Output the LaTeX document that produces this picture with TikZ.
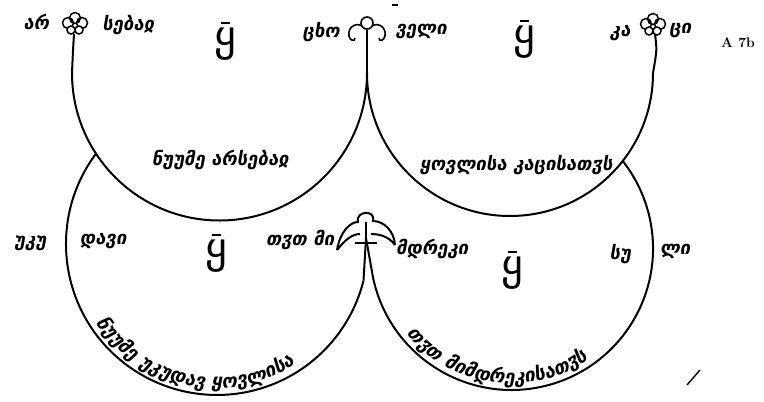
\documentclass[tikz,border=0pt]{standalone}
\usepackage{fontspec}
\usepackage{tikz}
\usetikzlibrary{decorations.text}
\newfontfamily\geo[FakeSlant=0.18]{DejaVu Sans Bold}
\newfontfamily\geoup{DejaVu Sans}
\newcommand{\qletter}[1]{
node[bigq] (#1) {ყ}
}

\begin{document}
\begin{tikzpicture}[x=1pt,y=-1pt,
  rim/.style={line width=2pt},
  word/.style={font=\geo\fontsize{18.5}{18.5}\selectfont, inner sep=0},
  bigq/.style={font=\geoup\fontsize{42}{42}\selectfont, inner sep=0},
  bloom/.pic={
    \draw[line width=1.5pt, fill=white] (-7,-1) circle (5.5) (7,-1) circle (5.5) (0,-6) circle (5.5);
    \draw[line width=1.5pt, fill=white] (-4,6) circle (4) (4,6) circle (4);
  },
  lily/.pic={
    \draw[line width=1.6pt] (-2,-1) .. controls (-8,-10) and (-20,-4) .. (-18,6) .. controls (-17,11) and (-12,12) .. (-12,8);
    \draw[line width=1.6pt] (2,-1) .. controls (8,-10) and (20,-4) .. (18,6) .. controls (17,11) and (12,12) .. (12,8);
    \draw[line width=1.6pt, fill=white] (0,-7) circle (6);
  }]
\useasboundingbox (0,0) rectangle (764,402);

\coordinate (ulw) at (72,73);
\coordinate (top) at (367,73);
\coordinate (ure) at (653,73);
\coordinate (llw) at (96.4,153.1);
\coordinate (lle) at (363.5,280.5);
\coordinate (lrw) at (373.1,277.9);
\coordinate (lre) at (623,161.4);
\coordinate (hip) at (366,238);

\draw[rim] (ulw) arc[start angle=180, end angle=0, radius=147.5];
\draw[rim] (top) arc[start angle=180, end angle=0, radius=143];
\draw[rim] (llw) arc[start angle=217, end angle=14, radius=151];
\draw[rim] (lrw) arc[start angle=168, end angle=-38, radius=141.5];

\draw[rim] (74,34) .. controls (73,50) .. (ulw);
\draw[line width=2.6pt] (367,30) -- (top);
\draw[rim] (655,34) .. controls (657,50) .. (ure);
\path (75,24) pic {bloom} coordinate (f1);
\path (367,30) pic {lily} coordinate (f2);
\path (653,25) pic {bloom} coordinate (f3);
\draw[rim] (392,5) -- (398,5);

% figure between the lower arcs
\draw[rim] (337,250) .. controls (340,232) and (350,222) .. (358,222)
  .. controls (355,211) and (376,209) .. (373,221)
  .. controls (383,221) and (394,230) .. (395,245);
\draw[rim] (337,250) .. controls (345,240) and (352,234) .. (360,234);
\draw[rim] (395,245) .. controls (390,238) and (382,234) .. (371,234);
\draw[rim] (366,222) -- (hip);
\draw[rim] (355,243) -- (377,243);
\draw[rim] (hip) -- (lle);
\draw[rim] (hip) -- (lrw);

\path (36,22) node[word] (ar) {არ};
\path (128,25) node[word] (sebaj) {სებაჲ};
\path (321,32) node[word] (cxo) {ცხო};
\path (421,31) node[word] (veli) {ველი};
\path (620,33) node[word] (ka) {კა};
\path (680,30) node[word] (ci) {ცი};
\path (738,43) node[font=\bfseries\fontsize{14}{14}\selectfont, inner sep=0] (folio) {A 7b};

\path (220,160) node[word] (genus) {ნუუმე არსებაჲ};
\path (516,165) node[word] (allmen) {ყოვლისა კაცისათჳს};

\path (30,243) node[word] (uku) {უკუ};
\path (103,241) node[word] (davi) {დავი};
\path (300,240) node[word] (twtmi) {თჳთ მი};
\path (432,249) node[word] (mdreki) {მდრეკი};
\path (620,254) node[word] (su) {სუ};
\path (675,251) node[word] (li) {ლი};

\path (225,44) \qletter{q1};
\path (524,42) \qletter{q2};
\path (216,256) \qletter{q3};
\path (512,273) \qletter{q4};
\foreach \q in {q1,q2,q3,q4}
  \draw[rim] ([xshift=-4pt,yshift=5pt]\q.north) -- ++(9,0);

\path[decorate, decoration={text along path, text align=center,
  text={|\geo\fontsize{19}{19}\selectfont|ნუუმე უკუდავ ყოვლისა}}]
  (217,244) ++(158:144) arc[start angle=158, end angle=46, radius=144];
\path[decorate, decoration={text along path, text align=center,
  text={|\geo\fontsize{19}{19}\selectfont|თჳთ მიმდრეკისათჳს}}]
  (511.5,248.5) ++(144:135) arc[start angle=144, end angle=52, radius=135];

\draw[line width=1.4pt] (687,385) -- (700,370);
\end{tikzpicture}
\end{document}
